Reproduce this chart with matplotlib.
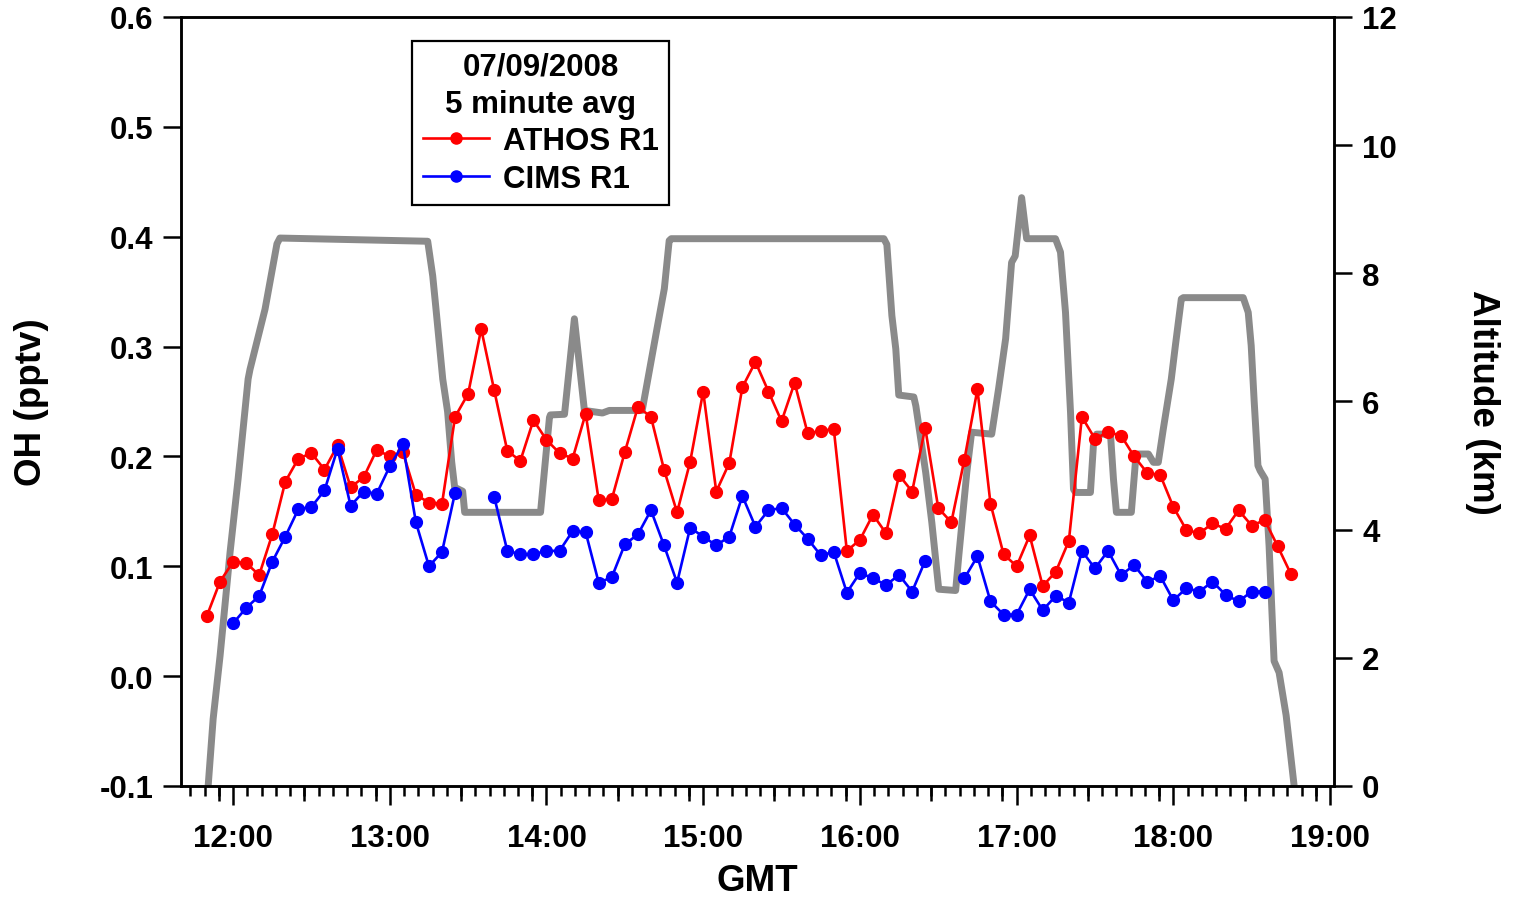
"""
OH mixing ratio (ATHOS vs CIMS, 5 minute averages) with flight altitude, 07/09/2008.
"""

import numpy as np
import matplotlib
matplotlib.use('Agg')
import matplotlib.pyplot as plt

plt.rcParams['font.family'] = ['Liberation Sans', 'DejaVu Sans']
plt.rcParams['font.weight'] = 'bold'

# 5 minute averages, start time (decimal hours) and values in pptv
ATHOS_START = 11 + 50 / 60
ATHOS_OH = [
    0.055, 0.086, 0.104, 0.103, 0.092, 0.129, 0.177, 0.198, 0.203, 0.188,
    0.210, 0.172, 0.181, 0.206, 0.200, 0.204, 0.165, 0.158, 0.157, 0.236,
    0.257, 0.316, 0.260, 0.205, 0.196, 0.233, 0.215, 0.203, 0.198, 0.239,
    0.160, 0.161, 0.204, 0.245, 0.236, 0.188, 0.149, 0.195, 0.259, 0.168,
    0.194, 0.263, 0.286, 0.259, 0.232, 0.267, 0.221, 0.223, 0.225, 0.114,
    0.124, 0.147, 0.130, 0.183, 0.168, 0.226, 0.153, 0.140, 0.197, 0.261,
    0.157, 0.111, 0.100, 0.128, 0.082, 0.095, 0.123, 0.236, 0.216, 0.222,
    0.219, 0.200, 0.185, 0.183, 0.154, 0.133, 0.130, 0.139, 0.134, 0.151,
    0.137, 0.142, 0.118, 0.093,
]

CIMS_START = 12.0
CIMS_OH = [
    0.048, 0.062, 0.073, 0.104, 0.127, 0.152, 0.154, 0.169, 0.207, 0.155,
    0.168, 0.166, 0.191, 0.211, 0.140, 0.100, 0.113, 0.167, np.nan, np.nan,
    0.163, 0.114, 0.111, 0.111, 0.114, 0.114, 0.132, 0.131, 0.085, 0.090,
    0.120, 0.129, 0.151, 0.119, 0.085, 0.135, 0.127, 0.119, 0.127, 0.164,
    0.136, 0.151, 0.153, 0.138, 0.125, 0.110, 0.113, 0.076, 0.094, 0.089,
    0.083, 0.092, 0.077, 0.105, np.nan, np.nan, 0.089, 0.109, 0.068, 0.056,
    0.056, 0.079, 0.060, 0.073, 0.067, 0.114, 0.098, 0.114, 0.092, 0.101,
    0.086, 0.091, 0.069, 0.080, 0.077, 0.086, 0.074, 0.068, 0.077, 0.077,
]

# flight altitude track (decimal hours, km)
ALT_HOURS = [
    11.841, 11.873, 11.917, 11.981, 12.032, 12.096, 12.108, 12.204, 12.280, 12.299,
    13.242, 13.274, 13.295, 13.338, 13.369, 13.395, 13.414, 13.465, 13.478, 13.962,
    14.000, 14.019, 14.025, 14.115, 14.178, 14.242, 14.357, 14.401, 14.611, 14.624,
    14.701, 14.752, 14.783, 14.796, 16.153, 16.172, 16.204, 16.229, 16.248, 16.344,
    16.357, 16.420, 16.459, 16.503, 16.611, 16.631, 16.682, 16.713, 16.841, 16.885,
    16.930, 16.968, 16.991, 17.032, 17.064, 17.248, 17.280, 17.312, 17.344, 17.363,
    17.376, 17.471, 17.490, 17.510, 17.599, 17.618, 17.637, 17.732, 17.758, 17.777,
    17.841, 17.873, 17.904, 17.936, 17.987, 18.013, 18.051, 18.064, 18.446, 18.478,
    18.497, 18.516, 18.540, 18.554, 18.586, 18.611, 18.643, 18.675, 18.720, 18.771,
]
ALT_KM = [
    0.00, 1.05, 2.03, 3.65, 4.79, 6.35, 6.50, 7.44, 8.46, 8.55,
    8.50, 7.96, 7.44, 6.35, 5.84, 5.06, 4.66, 4.60, 4.27, 4.27,
    5.26, 5.75, 5.79, 5.80, 7.29, 5.86, 5.82, 5.86, 5.86, 6.04,
    7.08, 7.76, 8.51, 8.54, 8.54, 8.45, 7.34, 6.82, 6.10, 6.07,
    5.93, 4.89, 4.11, 3.07, 3.05, 3.59, 4.89, 5.52, 5.49, 6.20,
    6.98, 8.17, 8.27, 9.18, 8.54, 8.54, 8.33, 7.39, 5.83, 4.63,
    4.58, 4.58, 5.31, 5.49, 5.49, 4.79, 4.27, 4.27, 5.05, 5.18,
    5.18, 5.05, 5.05, 5.57, 6.35, 6.87, 7.60, 7.62, 7.62, 7.39,
    6.87, 6.00, 5.00, 4.92, 4.79, 3.75, 1.95, 1.77, 1.10, 0.00,
]

HOURS = [12, 13, 14, 15, 16, 17, 18, 19]
TICK_LABELS = ['%d:00' % h for h in HOURS]


def five_min_times(start, n):
    return start + np.arange(n) * 5 / 60


def style_axis(ax):
    for side in ['left', 'right', 'top', 'bottom']:
        ax.spines[side].set_linewidth(1.8)
    ax.tick_params(axis='both', which='major', width=1.8, labelsize=22.5, direction='out')


fig = plt.figure(figsize=(15.15, 9.03), dpi=100)
ax = fig.add_axes([0.1195, 0.1285, 0.7612, 0.8516])
ax2 = ax.twinx()

# altitude drawn behind the OH traces
ax2.plot(ALT_HOURS, ALT_KM, color='#8a8a8a', lw=5, solid_capstyle='butt', zorder=1)
ax.set_zorder(ax2.get_zorder() + 1)
ax.patch.set_visible(False)

ax.plot(five_min_times(ATHOS_START, len(ATHOS_OH)), ATHOS_OH, color='#ff0000', lw=1.9,
        marker='o', ms=8.5, label='ATHOS R1')
ax.plot(five_min_times(CIMS_START, len(CIMS_OH)), CIMS_OH, color='#0000ff', lw=1.9,
        marker='o', ms=8.5, label='CIMS R1')

ax.set_xlim(11.668, 19.027)
ax.set_ylim(-0.1, 0.6)
ax2.set_ylim(0, 12)

ax.set_yticks(np.arange(-0.1, 0.61, 0.1))
ax.set_yticklabels(['%.1f' % v for v in np.arange(-0.1, 0.61, 0.1)])
ax2.set_yticks(range(0, 13, 2))

ax.set_xticks(HOURS)
ax.set_xticklabels(TICK_LABELS)
minor = [h + k / 11 for h in range(11, 19) for k in range(1, 11)]
ax.set_xticks([m for m in minor if 11.668 < m < 19.027], minor=True)

style_axis(ax)
style_axis(ax2)
ax.tick_params(axis='x', which='major', length=14, pad=13)
ax.tick_params(axis='x', which='minor', length=7, width=1.8)
ax.tick_params(axis='y', which='major', length=13, pad=7)
ax2.tick_params(axis='y', which='major', length=13, pad=7)

# medium ticks every 5/11 hour
mid = [h + k / 11 for h in range(11, 19) for k in (5, 10)]
sec = ax.secondary_xaxis('bottom')
sec.set_xticks([m for m in mid if 11.668 < m < 19.027])
sec.tick_params(axis='x', length=10.5, width=1.8, labelbottom=False)
sec.spines['bottom'].set_visible(False)

ax.set_xlabel('GMT', fontsize=26.5, fontweight='bold', labelpad=7)
ax.set_ylabel('OH (pptv)', fontsize=26.5, fontweight='bold', labelpad=36)
ax2.set_ylabel('Altitude (km)', fontsize=26.5, fontweight='bold', rotation=270, labelpad=74)

leg = ax.legend(title='07/09/2008\n5 minute avg', loc='upper left',
                bbox_to_anchor=(0.2003, 0.969), borderaxespad=0,
                fontsize=22.5, title_fontsize=22.5, handlelength=2.1,
                handletextpad=0.45, labelspacing=0.24, borderpad=0.35,
                fancybox=False, edgecolor='black', framealpha=1)
leg.get_frame().set_linewidth(1.6)
leg.get_title().set_fontweight('bold')
leg.get_title().set_multialignment('center')
leg.get_title().set_linespacing(1.3)
for line in leg.get_lines():
    line.set_markersize(8)

fig.savefig('out.png', dpi=100)
